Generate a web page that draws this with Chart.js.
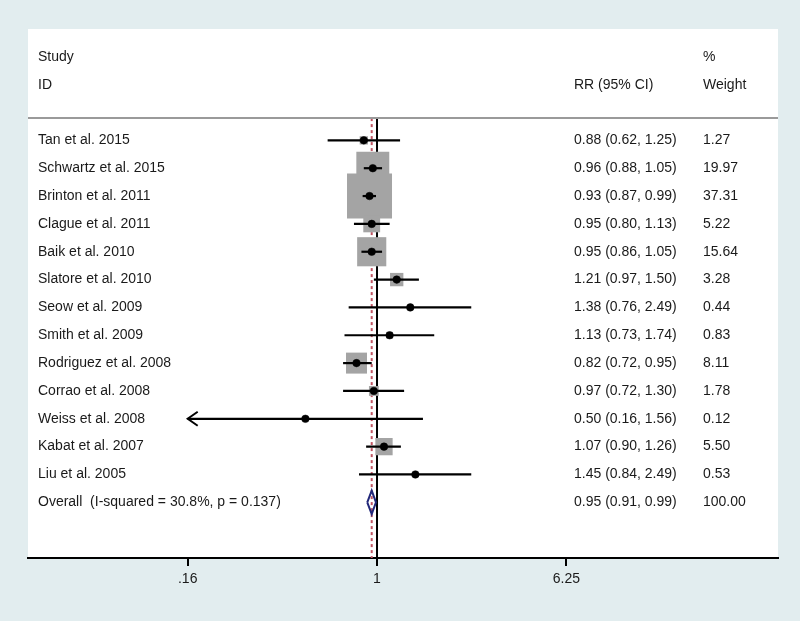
<!DOCTYPE html>
<html>
<head>
<meta charset="utf-8">
<script src="https://cdn.jsdelivr.net/npm/chart.js@4.4.1/dist/chart.umd.min.js"></script>
<style>
  html, body { margin:0; padding:0; background:#e2edef; }
  #wrap { width:800px; height:621px; }
</style>
</head>
<body>
<div id="wrap"><canvas id="forest" width="800" height="621"></canvas></div>
<script>
// study data
const studies = ['Tan et al. 2015','Schwartz et al. 2015','Brinton et al. 2011','Clague et al. 2011','Baik et al. 2010','Slatore et al. 2010','Seow et al. 2009','Smith et al. 2009','Rodriguez et al. 2008','Corrao et al. 2008','Weiss et al. 2008','Kabat et al. 2007','Liu et al. 2005'];
const rr     = [0.88, 0.96, 0.93, 0.95, 0.95, 1.21, 1.38, 1.13, 0.82, 0.97, 0.50, 1.07, 1.45];
const lower  = [0.62, 0.88, 0.87, 0.80, 0.86, 0.97, 0.76, 0.73, 0.72, 0.72, 0.16, 0.90, 0.84];
const upper  = [1.25, 1.05, 0.99, 1.13, 1.05, 1.50, 2.49, 1.74, 0.95, 1.30, 1.56, 1.26, 2.49];
const weight = [1.27, 19.97, 37.31, 5.22, 15.64, 3.28, 0.44, 0.83, 8.11, 1.78, 0.12, 5.50, 0.53];

const overallLabel = 'Overall  (I-squared = 30.8%, p = 0.137)';
const overall = [0.95, 0.91, 0.99];   // rr, lower, upper
const overallWeight = 100.00;

const tickValues = [0.16, 1, 6.25];
const tickLabels = ['.16', '1', '6.25'];

const FONT = '14px "Liberation Sans", Arial, sans-serif';
const TXT = '#1a1a1a';
const nRows = studies.length;           // overall row sits at index nRows
const sepRow = -0.8;

// background + white panel
const panelBg = {
  id:'panelBg',
  beforeDraw(chart){
    const {ctx, chartArea:a} = chart;
    ctx.save();
    ctx.fillStyle = '#e2edef';
    ctx.fillRect(0,0,chart.width,chart.height);
    ctx.fillStyle = '#ffffff';
    ctx.fillRect(a.left, a.top, a.right-a.left, a.bottom-a.top);
    ctx.restore();
  }
};

// header, separator, text columns, arrow for clipped CI
const tableText = {
  id:'tableText',
  afterDatasetsDraw(chart){
    const {ctx, chartArea:a, scales:{x, y}} = chart;
    ctx.save();
    // separator below header
    ctx.strokeStyle = '#9a9a9a';
    ctx.lineWidth = 2;
    ctx.beginPath();
    ctx.moveTo(a.left, y.getPixelForValue(sepRow));
    ctx.lineTo(a.right, y.getPixelForValue(sepRow));
    ctx.stroke();

    // arrow where lower CI hits the lowest tick
    ctx.strokeStyle = '#000';
    ctx.lineWidth = 2;
    lower.forEach((v,i)=>{
      if (v <= tickValues[0]) {
        const px = x.getPixelForValue(tickValues[0]);
        const py = y.getPixelForValue(i);
        ctx.beginPath();
        ctx.moveTo(px+10, py-7);
        ctx.lineTo(px, py);
        ctx.lineTo(px+10, py+7);
        ctx.stroke();
      }
    });

    ctx.fillStyle = TXT;
    ctx.font = FONT;
    ctx.textBaseline = 'middle';
    const xStudy = a.left + 10, xRR = 574, xW = 703;
    ctx.fillText('Study', xStudy, y.getPixelForValue(-3));
    ctx.fillText('ID', xStudy, y.getPixelForValue(-2));
    ctx.fillText('RR (95% CI)', xRR, y.getPixelForValue(-2));
    ctx.fillText('%', xW, y.getPixelForValue(-3));
    ctx.fillText('Weight', xW, y.getPixelForValue(-2));

    const fmt = (a,b,c) => a.toFixed(2)+' ('+b.toFixed(2)+', '+c.toFixed(2)+')';
    studies.forEach((s,i)=>{
      const py = y.getPixelForValue(i);
      ctx.fillText(s, xStudy, py);
      ctx.fillText(fmt(rr[i], lower[i], upper[i]), xRR, py);
      ctx.fillText(weight[i].toFixed(2), xW, py);
    });
    const po = y.getPixelForValue(nRows);
    ctx.fillText(overallLabel, xStudy, po);
    ctx.fillText(fmt(overall[0], overall[1], overall[2]), xRR, po);
    ctx.fillText(overallWeight.toFixed(2), xW, po);
    ctx.restore();
  }
};

const ciSets = studies.map((s,i)=>({
  type:'line',
  data:[{x:Math.max(lower[i], tickValues[0]), y:i},{x:upper[i], y:i}],
  borderColor:'#000', borderWidth:2.2, pointRadius:0, order:3
}));

const datasets = [
  // reference line at RR = 1
  {type:'line', data:[{x:1,y:sepRow},{x:1,y:nRows+2}], borderColor:'#000', borderWidth:2, pointRadius:0, order:9},
  // dashed line at overall estimate
  {type:'line', data:[{x:overall[0],y:sepRow},{x:overall[0],y:nRows+2}], borderColor:'#c05462', borderWidth:2, borderDash:[3,3], pointRadius:0, order:8},
  // weight boxes (area ~ weight)
  {type:'bubble', data:rr.map((v,i)=>({x:v, y:i, r:5.21*Math.sqrt(weight[i])})), pointStyle:'rect',
   backgroundColor:'#a4a4a4', borderWidth:0, order:5},
  ...ciSets,
  // point estimates
  {type:'scatter', data:rr.map((v,i)=>({x:v,y:i})), pointStyle:'circle', pointRadius:3.8,
   backgroundColor:'#000', borderColor:'#000', borderWidth:0.5, order:1},
  // overall diamond
  {type:'line', data:[
      {x:overall[1], y:nRows},{x:overall[0], y:nRows-0.42},{x:overall[2], y:nRows},
      {x:overall[0], y:nRows+0.42},{x:overall[1], y:nRows}],
   borderColor:'#22287a', borderWidth:2, pointRadius:0, tension:0, order:1}
];

new Chart(document.getElementById('forest'), {
  data:{ datasets },
  options:{
    responsive:false,
    animation:false,
    layout:{ autoPadding:false, padding:{ left:28, right:22, top:29, bottom:0 } },
    plugins:{ legend:{display:false}, tooltip:{enabled:false} },
    scales:{
      x:{
        type:'logarithmic', position:'bottom',
        min:0.0341, max:48.5,
        afterBuildTicks:(scale)=>{ scale.ticks = tickValues.map(v=>({value:v})); },
        afterFit:(scale)=>{ scale.height = 63; scale.paddingLeft = 0; scale.paddingRight = 0; },
        grid:{ drawOnChartArea:false, drawTicks:true, tickLength:8, color:'#000', lineWidth:2 },
        border:{ color:'#000', width:2 },
        ticks:{ autoSkip:false, maxRotation:0, padding:5, color:TXT,
                font:{ family:'"Liberation Sans", Arial, sans-serif', size:14 },
                callback:(v,i)=>tickLabels[i] }
      },
      y:{ type:'linear', display:false, min:-4, max:15, reverse:true }
    }
  },
  plugins:[panelBg, tableText]
});
</script>
</body>
</html>
